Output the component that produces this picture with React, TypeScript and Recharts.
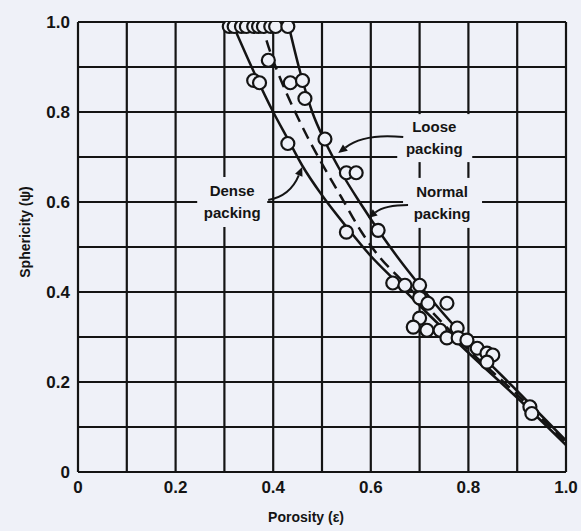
import React from 'react';
import { ComposedChart, Line, Scatter, XAxis, YAxis, CartesianGrid, ReferenceDot, Label } from 'recharts';

const BG = '#eff1f8';
const INK = '#141414';
const FONT = '"Liberation Sans", Arial, sans-serif';

const tickValues = [0, 0.1, 0.2, 0.3, 0.4, 0.5, 0.6, 0.7, 0.8, 0.9, 1.0];
const tickLabels = ['0', '', '0.2', '', '0.4', '', '0.6', '', '0.8', '', '1.0'];

const denseX = [0.315, 0.36, 0.4, 0.43, 0.46, 0.5, 0.55, 0.6, 0.65, 0.7, 0.8, 0.9, 1.0];
const denseY = [1.0, 0.89, 0.8, 0.74, 0.68, 0.615, 0.545, 0.48, 0.425, 0.37, 0.265, 0.165, 0.06];

const normalX = [0.375, 0.395, 0.42, 0.445, 0.47, 0.5, 0.54, 0.58, 0.62, 0.66, 0.7, 0.8, 0.9, 1.0];
const normalY = [1.0, 0.93, 0.86, 0.8, 0.745, 0.685, 0.61, 0.535, 0.475, 0.43, 0.385, 0.272, 0.172, 0.065];

const looseX = [0.43, 0.455, 0.48, 0.506, 0.54, 0.58, 0.62, 0.66, 0.7, 0.8, 0.9, 1.0];
const looseY = [1.0, 0.89, 0.8, 0.735, 0.665, 0.595, 0.53, 0.47, 0.415, 0.29, 0.18, 0.07];

const pointX = [
  0.31, 0.32, 0.335, 0.345, 0.36, 0.37, 0.38, 0.395, 0.405, 0.43,
  0.39, 0.36, 0.372, 0.435, 0.46, 0.465, 0.43, 0.506,
  0.55, 0.57, 0.55, 0.615,
  0.645, 0.67, 0.7, 0.7, 0.717, 0.756, 0.7, 0.687, 0.715, 0.742, 0.777,
  0.756, 0.779, 0.797, 0.818, 0.838, 0.85, 0.838, 0.926, 0.93,
];
const pointY = [
  0.99, 0.99, 0.99, 0.99, 0.99, 0.99, 0.99, 0.99, 0.99, 0.99,
  0.915, 0.87, 0.865, 0.865, 0.87, 0.83, 0.73, 0.74,
  0.665, 0.665, 0.533, 0.537,
  0.42, 0.415, 0.415, 0.387, 0.375, 0.375, 0.342, 0.322, 0.315, 0.315, 0.32,
  0.298, 0.298, 0.293, 0.275, 0.264, 0.26, 0.244, 0.145, 0.13,
];

const toPts = (xs: number[], ys: number[]) => xs.map((x, i) => ({ x, y: ys[i] }));
const denseData = toPts(denseX, denseY);
const normalData = toPts(normalX, normalY);
const looseData = toPts(looseX, looseY);
const pointData = toPts(pointX, pointY);

const Circle = (props: any) => {
  const { cx, cy } = props;
  return <circle cx={cx} cy={cy} r={6.5} fill={BG} stroke={INK} strokeWidth={2.2} />;
};

function arrow(x0: number, y0: number, qx: number, qy: number, x1: number, y1: number) {
  const ang = Math.atan2(y1 - qy, x1 - qx);
  const L = 9, W = 4;
  const bx = x1 - L * Math.cos(ang), by = y1 - L * Math.sin(ang);
  const px = -Math.sin(ang) * W, py = Math.cos(ang) * W;
  return (
    <g>
      <path d={`M${x0},${y0} Q${qx},${qy} ${bx},${by}`} fill="none" stroke={INK} strokeWidth={2} />
      <polygon points={`${x1},${y1} ${bx + px},${by + py} ${bx - px},${by - py}`} fill={INK} />
    </g>
  );
}

const makeLabel = (lines: string[], box: [number, number, number, number], arr: number[]) => (props: any) => {
  const { cx, cy } = props;
  const [bx0, by0, bw, bh] = box;
  return (
    <g>
      <rect x={cx + bx0} y={cy + by0} width={bw} height={bh} fill={BG} />
      {lines.map((t, i) => (
        <text key={i} x={cx} y={cy + (i === 0 ? -6 : 16)} textAnchor="middle" fontFamily={FONT} fontWeight="bold" fontSize={15} fill={INK}>
          {t}
        </text>
      ))}
      {arrow(cx + arr[0], cy + arr[1], cx + arr[2], cy + arr[3], cx + arr[4], cy + arr[5])}
    </g>
  );
};

const DenseLabel = makeLabel(['Dense', 'packing'], [-35, -25, 70, 50], [36, -2, 58, -6, 70, -35]);
const LooseLabel = makeLabel(['Loose', 'packing'], [-37, -24, 75, 48], [-31, -1, -70, -5, -96, 15]);
const NormalLabel = makeLabel(['Normal', 'packing'], [-39, -25, 79, 50], [-34, 2, -57, 2, -74, 15]);

const tickStyle = { fontFamily: FONT, fontWeight: 'bold', fontSize: 17, fill: INK };

export default function App() {
  return (
    <div style={{ position: 'fixed', left: 0, top: 0, width: 581, height: 531, background: BG }}>
      <ComposedChart width={581} height={531} margin={{ top: 22, right: 15, bottom: 0, left: 18 }}>
        <CartesianGrid stroke={INK} strokeWidth={2.2} horizontalValues={tickValues} verticalValues={tickValues} />
        <XAxis
          type="number"
          dataKey="x"
          domain={[0, 1]}
          ticks={tickValues}
          tickFormatter={(v: number, i: number) => tickLabels[i]}
          interval={0}
          axisLine={false}
          tickLine={false}
          tickSize={0}
          tickMargin={9}
          height={59}
          tick={tickStyle}
          allowDataOverflow
        >
          <Label
            content={(p: any) => {
              const vb = p.viewBox;
              return (
                <text x={vb.x + vb.width / 2 - 16} y={vb.y + 50} textAnchor="middle" fontFamily={FONT} fontWeight="bold" fontSize={14} fill={INK}>
                  Porosity (ε)
                </text>
              );
            }}
          />
        </XAxis>
        <YAxis
          type="number"
          dataKey="y"
          domain={[0, 1]}
          ticks={tickValues}
          tickFormatter={(v: number, i: number) => tickLabels[i]}
          interval={0}
          axisLine={false}
          tickLine={false}
          tickSize={0}
          tickMargin={8}
          width={60}
          tick={tickStyle}
          allowDataOverflow
        >
          <Label
            content={(p: any) => {
              const vb = p.viewBox;
              const x = vb.x + 7;
              const y = vb.y + vb.height / 2 - 15;
              return (
                <text x={x} y={y} transform={`rotate(-90 ${x} ${y})`} textAnchor="middle" dominantBaseline="central" fontFamily={FONT} fontWeight="bold" fontSize={14} fill={INK}>
                  Sphericity (ψ)
                </text>
              );
            }}
          />
        </YAxis>
        <Line data={denseData} dataKey="y" type="monotone" stroke={INK} strokeWidth={2.5} dot={false} isAnimationActive={false} />
        <Line data={normalData} dataKey="y" type="monotone" stroke={INK} strokeWidth={2.5} strokeDasharray="12 7" dot={false} isAnimationActive={false} />
        <Line data={looseData} dataKey="y" type="monotone" stroke={INK} strokeWidth={2.5} dot={false} isAnimationActive={false} />
        <Scatter data={pointData} dataKey="y" shape={Circle} isAnimationActive={false} />
        <ReferenceDot x={0.316} y={0.6} r={0} shape={DenseLabel} ifOverflow="visible" />
        <ReferenceDot x={0.73} y={0.742} r={0} shape={LooseLabel} ifOverflow="visible" />
        <ReferenceDot x={0.746} y={0.598} r={0} shape={NormalLabel} ifOverflow="visible" />
      </ComposedChart>
    </div>
  );
}
